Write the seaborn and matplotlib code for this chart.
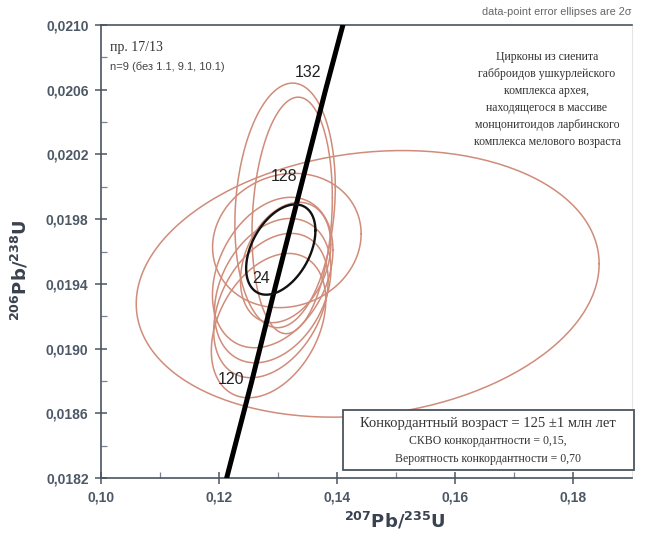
import numpy as np
import pandas as pd
import matplotlib
matplotlib.use("Agg")
import matplotlib.pyplot as plt
import seaborn as sns
from matplotlib.patches import Rectangle

# ---------------- data ----------------
# Error ellipses (2 sigma): centre 207Pb/235U, centre 206Pb/238U, half-axes, correlation
ell_x   = [0.1452, 0.1312, 0.1324, 0.1315, 0.1291, 0.1291, 0.1288, 0.1284, 0.1313]
ell_y   = [0.01940, 0.019885, 0.019823, 0.019668, 0.019470, 0.019358, 0.019266, 0.019142, 0.019532]
ell_sx  = [0.03923, 0.00851, 0.00681, 0.01259, 0.01021, 0.00987, 0.00970, 0.00970, 0.00766]
ell_sy  = [0.000824, 0.000756, 0.000731, 0.000415, 0.000465, 0.000446, 0.000446, 0.000446, 0.000372]
ell_rho = [0.15, 0.15, 0.15, 0.10, 0.30, 0.30, 0.35, 0.35, 0.30]

# Concordia age ellipse
conc_ell = dict(x=0.13047, y=0.019612, sx=0.00587, sy=0.000279, rho=0.42)

# Concordia curve
conc_x = [0.1213, 0.1255, 0.1296, 0.1338, 0.1380, 0.1410]
conc_y = [0.01820, 0.01879, 0.01939, 0.01999, 0.02059, 0.02100]

# Age labels on concordia (Ma)
age_text = ["120", "24", "128", "132"]
age_x = [0.1221, 0.1272, 0.1311, 0.1351]
age_y = [0.018807, 0.019433, 0.020065, 0.020709]

x_ticks = [0.10, 0.12, 0.14, 0.16, 0.18]
x_tick_labels = ["0,10", "0,12", "0,14", "0,16", "0,18"]
y_ticks = [0.0182, 0.0186, 0.0190, 0.0194, 0.0198, 0.0202, 0.0206, 0.0210]
y_tick_labels = ["0,0182", "0,0186", "0,0190", "0,0194", "0,0198", "0,0202", "0,0206", "0,0210"]

info_lines = ["Цирконы из сиенита", "габброидов ушкурлейского", "комплекса архея,",
              "находящегося в массиве", "монцонитоидов ларбинского",
              "комплекса мелового возраста"]
result_lines = ["Конкордантный возраст = 125 ±1 млн лет",
                "СКВО конкордантности = 0,15,",
                "Вероятность конкордантности = 0,70"]

# ---------------- helpers ----------------
def ellipse_outline(cx, cy, sx, sy, rho, n=240):
    t = np.linspace(0, 2 * np.pi, n)
    ex = cx + sx * np.cos(t)
    ey = cy + sy * (rho * np.cos(t) + np.sqrt(1 - rho ** 2) * np.sin(t))
    return ex, ey

rows = []
for i in range(len(ell_x)):
    ex, ey = ellipse_outline(ell_x[i], ell_y[i], ell_sx[i], ell_sy[i], ell_rho[i])
    for k in range(len(ex)):
        rows.append((i, k, ex[k], ey[k]))
df_ell = pd.DataFrame(rows, columns=["id", "k", "x", "y"])

cx_, cy_ = ellipse_outline(conc_ell["x"], conc_ell["y"], conc_ell["sx"], conc_ell["sy"], conc_ell["rho"])
df_conc_ell = pd.DataFrame({"x": cx_, "y": cy_, "k": np.arange(len(cx_))})
df_conc = pd.DataFrame({"x": conc_x, "y": conc_y})

# ---------------- plot ----------------
sns.set_theme(style="white")
plt.rcParams["font.family"] = ["Liberation Sans", "DejaVu Sans"]

fig = plt.figure(figsize=(6.45, 5.38), dpi=100)
ax = fig.add_axes([101 / 645, (538 - 478) / 538, (632 - 101) / 645, (478 - 25) / 538])

sns.lineplot(data=df_ell, x="x", y="y", units="id", estimator=None, sort=False,
             color="#d08c7a", lw=1.1, ax=ax, zorder=2)
sns.lineplot(data=df_conc, x="x", y="y", estimator=None, sort=False,
             color="black", lw=3.6, ax=ax, zorder=4)
sns.lineplot(data=df_conc_ell, x="x", y="y", estimator=None, sort=False,
             color="#111111", lw=1.7, ax=ax, zorder=5)

for t, x, y in zip(age_text, age_x, age_y):
    ax.text(x, y, t, fontsize=11.5, color="#222222", ha="center", va="center", zorder=6)

ax.set_xlim(0.10, 0.19)
ax.set_ylim(0.0182, 0.0210)
ax.set_xticks(x_ticks)
ax.set_xticklabels(x_tick_labels)
ax.set_yticks(y_ticks)
ax.set_yticklabels(y_tick_labels)
ax.set_xticks([0.11, 0.13, 0.15, 0.17], minor=True)
ax.set_yticks([0.0184, 0.0188, 0.0192, 0.0196, 0.0200, 0.0204, 0.0208], minor=True)
ax.tick_params(axis="both", which="major", direction="inout", length=8, width=1.1,
               color="#4a5560", labelsize=10, labelcolor="#4d5866", pad=5)
ax.tick_params(axis="both", which="minor", direction="in", length=4, width=0.9, color="#7a8490")
ax.tick_params(bottom=True, left=True, which="both")
for lab in ax.get_xticklabels() + ax.get_yticklabels():
    lab.set_fontweight("bold")

for s in ["left", "bottom", "top"]:
    ax.spines[s].set_color("#4a5560")
    ax.spines[s].set_linewidth(1.2)
ax.spines["right"].set_color("#e4e4e4")
ax.spines["right"].set_linewidth(0.8)

ax.set_xlabel(r"$\mathbf{^{207}Pb/^{235}U}$", fontsize=13, color="#3a4250")
ax.set_ylabel(r"$\mathbf{^{206}Pb/^{238}U}$", fontsize=13, color="#3a4250")
ax.xaxis.label.set_va("center")
ax.yaxis.label.set_va("center")
ax.xaxis.set_label_coords((395 - 101) / 531, -(521 - 478) / 453)
ax.yaxis.set_label_coords(-(101 - 20) / 531, (478 - 270) / 453)

# Header note
fig.text(632 / 645, 1 - 12 / 538, "data-point error ellipses are 2σ", fontsize=7.8,
         color="#666666", ha="right", va="center")

# Sample info, top-left
fig.text(110 / 645, 1 - 47 / 538, "пр. 17/13", fontsize=10, family=["Liberation Serif", "DejaVu Serif"],
         color="#333333", ha="left", va="center")
fig.text(110 / 645, 1 - 67 / 538, "n=9 (без 1.1, 9.1, 10.1)", fontsize=8, color="#444444",
         ha="left", va="center")

# Description, top-right
info_y = [57, 74, 91, 108, 125, 142]
for line, py in zip(info_lines, info_y):
    fig.text(547 / 645, 1 - py / 538, line, fontsize=8.5, family=["Liberation Serif", "DejaVu Serif"],
             color="#333333", ha="center", va="center")

# Result box
fig.patches.append(Rectangle((343 / 645, 1 - 470 / 538), 291 / 645, 60 / 538,
                             transform=fig.transFigure, facecolor="white",
                             edgecolor="#4a5560", lw=1.3, zorder=10))
res_y = [423, 441, 459]
res_fs = [10.5, 8.5, 8.5]
for line, py, fs in zip(result_lines, res_y, res_fs):
    fig.text(488 / 645, 1 - py / 538, line, fontsize=fs, family=["Liberation Serif", "DejaVu Serif"],
             color="#333333", ha="center", va="center", zorder=11)

fig.savefig("out.png", dpi=100)
